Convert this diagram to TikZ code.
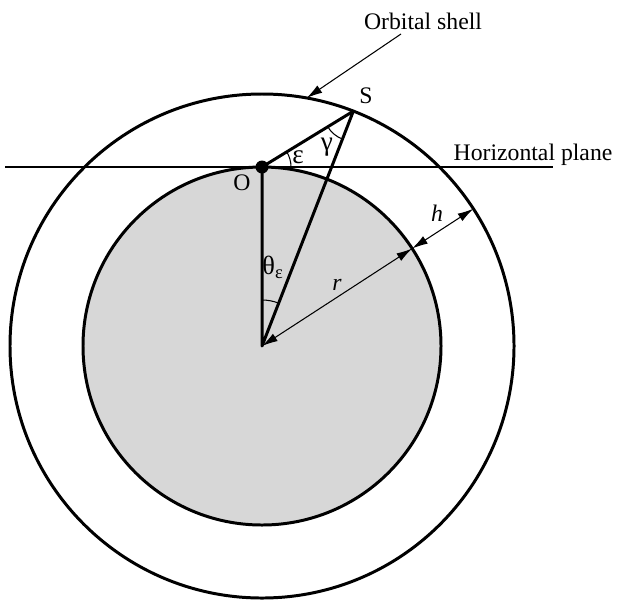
\documentclass[tikz,border=0pt]{standalone}
\usepackage{fontspec}
\setmainfont{Liberation Serif}
\usetikzlibrary{arrows.meta,calc}
\definecolor{earthc}{RGB}{215,215,215}

\begin{document}
\begin{tikzpicture}[x=0.02cm,y=0.02cm,font=\fontsize{13.5}{16}\selectfont,>={Latex[length=9pt,width=5pt]}]
\useasboundingbox (0,0) rectangle (617,600);
\coordinate (C) at (262,254);
\coordinate (O) at ($(C)+(90:179)$);
\coordinate (S) at ($(C)+(68.75:252)$);
% earth and orbital shell
\filldraw[fill=earthc,line width=1.7pt] (C) circle (179);
\draw[line width=1.7pt] (C) circle (252);
% horizontal plane through O
\coordinate (hl) at (5,433);
\coordinate (hr) at (553,433);
\draw[line width=1.6pt] (hl) -- (hr);
\node (plane) at (533,445) {Horizontal plane};
% triangle C-O-S
\draw[line width=1.7pt,line join=round] (C) -- (O) -- (S) -- cycle;
\fill (O) circle (6.5);
\node (lO) at (242,417) {O};
\node (lS) at (366,504) {S};
% angles
\draw[line width=0.6pt] ($(O)+(0:29)$) arc[start angle=0,end angle=31.46,radius=29];
\draw[line width=0.6pt] ($(S)+(211.46:30)$) arc[start angle=211.46,end angle=248.75,radius=30];
\draw[line width=0.6pt] ($(C)+(90:46)$) arc[start angle=90,end angle=68.75,radius=46];
\node[font=\fontsize{15.5}{18}\selectfont] (eps) at (298,443) {ε};
\node[font=\fontsize{15.5}{18}\selectfont] (gam) at (327,453) {γ};
\node[font=\fontsize{15}{18}\selectfont] (theta) at (273,333) {θ\textsubscript{ε}};
% radius and altitude
\coordinate (R) at ($(C)+(33:179)$);
\coordinate (H) at ($(C)+(33:252)$);
\draw[<->,line width=0.6pt] (C) -- (R);
\draw[<->,line width=0.6pt] (R) -- (H);
\node (lr) at (337,315) {\textit{r}};
\node (lh) at (437,387) {\textit{h}};
% orbital shell pointer
\node (shell) at (423,579) {Orbital shell};
\coordinate (shelltail) at (401,566);
\coordinate (shellhead) at ($(C)+(79.8:252)$);
\draw[->,line width=0.6pt] (shelltail) -- (shellhead);
\end{tikzpicture}
\end{document}
